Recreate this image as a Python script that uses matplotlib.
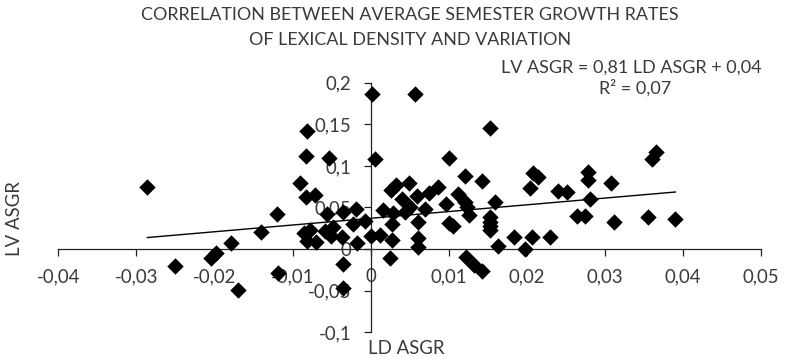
import matplotlib
matplotlib.use("Agg")
import matplotlib.pyplot as plt
import numpy as np

plt.rcParams['font.family'] = ['Lato', 'DejaVu Sans']

ld_asgr = [
    -0.0286, -0.0250, -0.0204, -0.0198,
    0.0001, -0.0081, -0.0083, -0.00535, 0.0005, -0.0091, -0.0083, -0.0071,
    -0.0019, -0.0035, -0.0056, -0.0120, -0.0007, -0.0023, -0.0048, -0.0059,
    -0.0141, -0.0085, -0.0078, -0.0051, -0.0037, -0.0081, -0.0070, 0.0000,
    -0.0018, -0.0179, -0.0035, -0.0119, -0.0170, -0.0036,
    0.0057, 0.0153, 0.0100, 0.0121, 0.0142, 0.0049, 0.0032, 0.0026, 0.0086,
    0.0074, 0.0059, 0.0040, 0.0112, 0.0096, 0.0121, 0.0123, 0.0159, 0.0050,
    0.0069, 0.0044, 0.0016, 0.0029, 0.0126, 0.0153, 0.0153, 0.0153, 0.0153,
    0.0100, 0.0105, 0.0061, 0.0027, 0.0012, 0.0027, 0.0061, 0.0061, 0.0163,
    0.0025, 0.0122, 0.0132, 0.0143,
    0.0365, 0.0360, 0.0208, 0.0214, 0.0204, 0.0278, 0.0278, 0.0308, 0.0240,
    0.0251, 0.0281, 0.0264, 0.0274, 0.0311, 0.0355, 0.0390, 0.0184, 0.0207,
    0.0229, 0.0198,
]
lv_asgr = [
    0.075, -0.020, -0.011, -0.005,
    0.186, 0.142, 0.112, 0.110, 0.108, 0.079, 0.062, 0.065,
    0.048, 0.045, 0.042, 0.042, 0.034, 0.030, 0.027, 0.022,
    0.020, 0.019, 0.023, 0.016, 0.015, 0.010, 0.009, 0.016,
    0.007, 0.007, -0.018, -0.029, -0.049, -0.047,
    0.187, 0.146, 0.110, 0.088, 0.082, 0.079, 0.077, 0.071, 0.075,
    0.067, 0.064, 0.060, 0.066, 0.054, 0.057, 0.051, 0.057, 0.050,
    0.048, 0.044, 0.047, 0.043, 0.041, 0.038, 0.033, 0.028, 0.023,
    0.031, 0.028, 0.032, 0.030, 0.017, 0.011, 0.013, 0.003, 0.004,
    -0.011, -0.009, -0.019, -0.026,
    0.117, 0.108, 0.092, 0.087, 0.074, 0.093, 0.083, 0.080, 0.070,
    0.068, 0.060, 0.040, 0.040, 0.033, 0.038, 0.036, 0.015, 0.014,
    0.015, 0.000,
]

trend_slope = 0.81
trend_intercept = 0.037

title_lines = ["CORRELATION BETWEEN AVERAGE SEMESTER GROWTH RATES",
               "OF LEXICAL DENSITY AND VARIATION"]
equation_lines = ["LV ASGR = 0,81 LD ASGR + 0,04", "R² = 0,07"]
x_ticks = [-0.04, -0.03, -0.02, -0.01, 0, 0.01, 0.02, 0.03, 0.04, 0.05]
x_tick_labels = ["-0,04", "-0,03", "-0,02", "-0,01", "0", "0,01", "0,02", "0,03", "0,04", "0,05"]
y_ticks = [-0.1, -0.05, 0, 0.05, 0.1, 0.15, 0.2]
y_tick_labels = ["-0,1", "-0,05", "0", "0,05", "0,1", "0,15", "0,2"]

text_color = '#3a3a3a'

fig = plt.figure(figsize=(7.85, 3.6), dpi=100)
ax = fig.add_axes([0.0743, 0.0772, 0.8955, 0.693])

ax.scatter(ld_asgr, lv_asgr, marker='D', s=70, color='black', linewidths=0, zorder=3)

xs = np.array([min(ld_asgr), max(ld_asgr)])
ax.plot(xs, trend_slope * xs + trend_intercept, color='black', lw=1.0, zorder=2)

ax.set_xlim(-0.04, 0.05)
ax.set_ylim(-0.1, 0.2)
ax.spines['left'].set_position(('data', 0))
ax.spines['bottom'].set_position(('data', 0))
ax.spines['top'].set_visible(False)
ax.spines['right'].set_visible(False)
for sp in ('left', 'bottom'):
    ax.spines[sp].set_color('#222222')
    ax.spines[sp].set_linewidth(0.9)

ax.set_xticks(x_ticks)
ax.set_xticklabels(x_tick_labels)
ax.set_yticks(y_ticks)
ax.set_yticklabels(y_tick_labels)
ax.tick_params(axis='both', direction='out', length=5, width=0.9, color='#222222',
               labelsize=13.4, labelcolor=text_color)
ax.tick_params(axis='x', pad=9)
ax.tick_params(axis='y', pad=9)

fig.text(0.522, 1 - 15 / 360, title_lines[0], ha='center', va='center',
         fontsize=12.9, color=text_color)
fig.text(0.522, 1 - 40 / 360, title_lines[1], ha='center', va='center',
         fontsize=12.9, color=text_color)
fig.text(0.8047, 1 - 67.7 / 360, equation_lines[0], ha='center', va='center',
         fontsize=13, color=text_color)
fig.text(0.8096, 1 - 88 / 360, equation_lines[1], ha='center', va='center',
         fontsize=13, color=text_color)
fig.text(0.019, 0.394, "LV ASGR", rotation=90, ha='center', va='center',
         fontsize=13.4, color=text_color)
fig.text(0.517, 0.033, "LD ASGR", ha='center', va='center', fontsize=13.4,
         color=text_color)

fig.savefig("out.png", dpi=100)
